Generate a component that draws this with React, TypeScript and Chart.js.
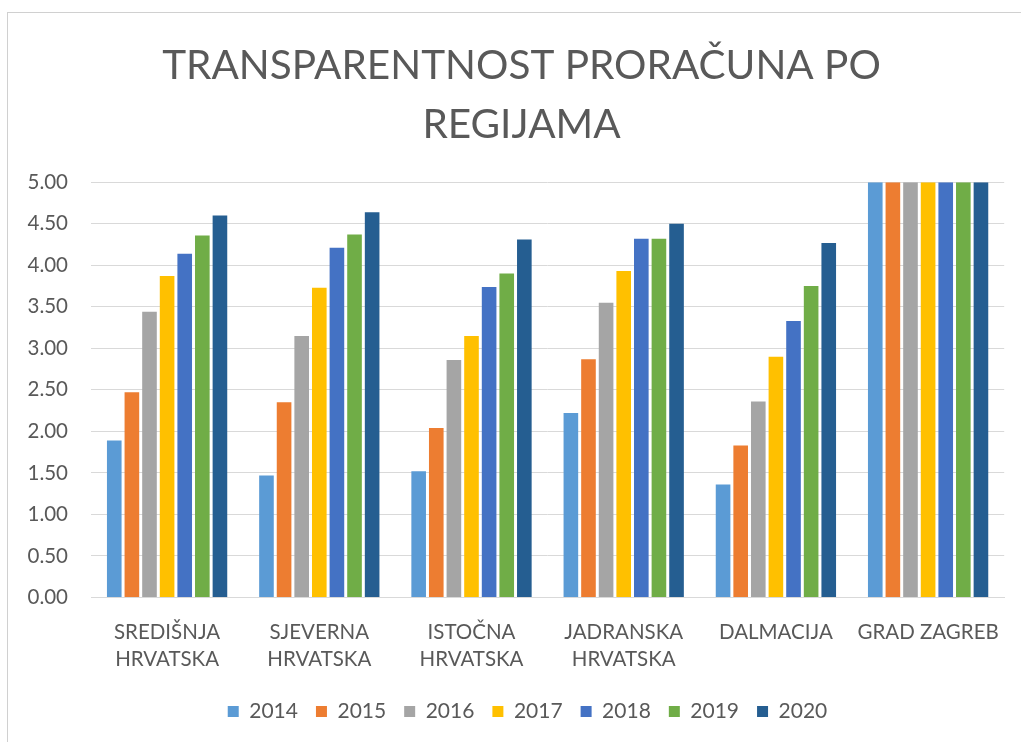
import React, { useEffect, useRef } from "react";
import { Chart, registerables } from "chart.js";

Chart.register(...registerables);

const categories: string[][] = [
  ["SREDIŠNJA", "HRVATSKA"],
  ["SJEVERNA", "HRVATSKA"],
  ["ISTOČNA", "HRVATSKA"],
  ["JADRANSKA", "HRVATSKA"],
  ["DALMACIJA"],
  ["GRAD ZAGREB"],
];

const years = ["2014", "2015", "2016", "2017", "2018", "2019", "2020"];

const v2014 = [1.89, 1.47, 1.52, 2.22, 1.36, 5.0];
const v2015 = [2.47, 2.35, 2.04, 2.87, 1.83, 5.0];
const v2016 = [3.44, 3.15, 2.86, 3.55, 2.36, 5.0];
const v2017 = [3.87, 3.73, 3.15, 3.93, 2.9, 5.0];
const v2018 = [4.14, 4.21, 3.74, 4.32, 3.33, 5.0];
const v2019 = [4.36, 4.37, 3.9, 4.32, 3.75, 5.0];
const v2020 = [4.6, 4.64, 4.31, 4.5, 4.27, 5.0];

const seriesValues = [v2014, v2015, v2016, v2017, v2018, v2019, v2020];
const colors = ["#5B9BD5", "#ED7D31", "#A5A5A5", "#FFC000", "#4472C4", "#70AD47", "#255E91"];

const titleLines = ["TRANSPARENTNOST PRORAČUNA PO", "REGIJAMA"];

const FONT = "Lato, 'Open Sans', sans-serif";
const TEXT = "#595959";

const shiftBoxes = {
  id: "shiftBoxes",
  afterLayout(chart: any) {
    if (chart.legend) {
      chart.legend.left += 12;
      chart.legend.right += 12;
    }
    if (chart.titleBlock) {
      chart.titleBlock.left += 6;
      chart.titleBlock.right += 6;
    }
  },
};

export default function App() {
  const ref = useRef<HTMLCanvasElement | null>(null);

  useEffect(() => {
    if (!ref.current) return;
    const chart = new Chart(ref.current, {
      type: "bar",
      data: {
        labels: categories,
        datasets: years.map((y, i) => ({
          label: y,
          data: seriesValues[i],
          backgroundColor: colors[i],
          borderColor: "#ffffff",
          borderWidth: 0,
          categoryPercentage: 0.81,
          barPercentage: 0.83,
        })),
      },
      options: {
        responsive: false,
        animation: false,
        layout: { padding: { left: 25, right: 15, top: 0, bottom: 10 } },
        plugins: {
          title: {
            display: true,
            text: titleLines,
            color: TEXT,
            font: { family: FONT, size: 40.5, weight: "normal", lineHeight: 1.46 },
            padding: { top: 36, bottom: 28 },
          },
          legend: {
            position: "bottom",
            labels: {
              color: TEXT,
              font: { family: FONT, size: 21 },
              boxWidth: 11,
              boxHeight: 11,
              padding: 18,
            },
          },
          tooltip: { enabled: false },
        },
        scales: {
          x: {
            afterFit: (s: any) => {
              s.height = s.height - 11;
            },
            grid: { display: false, drawTicks: false },
            border: { display: true, color: "#d9d9d9", width: 1 },
            ticks: {
              color: TEXT,
              font: { family: FONT, size: 20.5, lineHeight: 1.33 },
              padding: 21,
              maxRotation: 0,
              autoSkip: false,
            },
          },
          y: {
            min: 0,
            max: 5,
            afterFit: (s: any) => {
              s.width = 66;
            },
            grid: { color: "#d9d9d9", lineWidth: 1, drawTicks: false },
            border: { display: false },
            ticks: {
              stepSize: 0.5,
              color: TEXT,
              font: { family: FONT, size: 20.5 },
              padding: 23,
              callback: (v: any) => Number(v).toFixed(2),
            },
          },
        },
      },
      plugins: [shiftBoxes],
    });
    return () => chart.destroy();
  }, []);

  return (
    <div style={{ position: "fixed", left: 0, top: 0, width: 1021, height: 742, background: "#fff" }}>
      <div
        style={{
          position: "absolute",
          left: 7,
          top: 12,
          right: 0,
          bottom: 0,
          borderLeft: "1px solid #d0d0d0",
          borderTop: "1px solid #d0d0d0",
        }}
      />
      <canvas
        ref={ref}
        width={1021}
        height={742}
        style={{ position: "absolute", left: 0, top: 0, width: 1021, height: 742 }}
      />
    </div>
  );
}
